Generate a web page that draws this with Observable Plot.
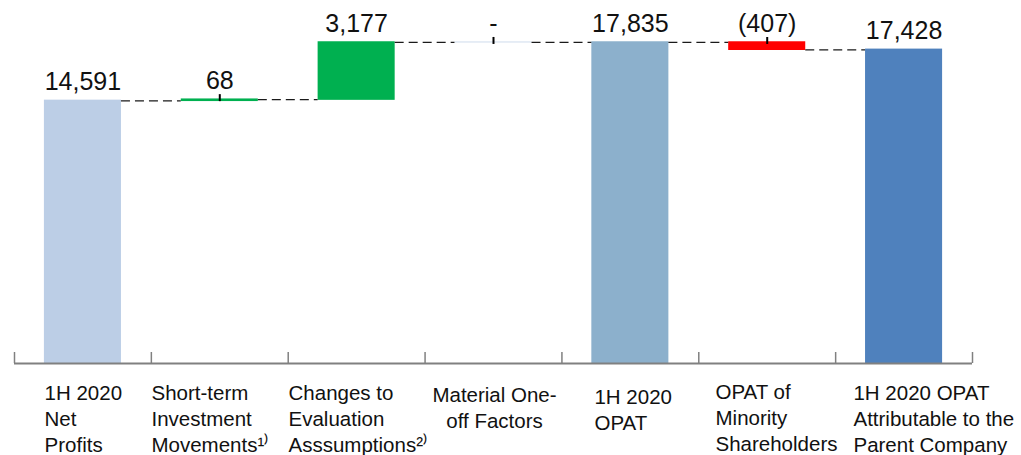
<!DOCTYPE html>
<html><head><meta charset="utf-8">
<script src="https://cdn.jsdelivr.net/npm/d3@7"></script>
<script src="https://cdn.jsdelivr.net/npm/@observablehq/plot@0.6"></script>
<style>body{margin:0;background:#fff;} svg{display:block}</style>
</head><body><div id="chart"></div>
<script>
// ---- data ----
const categories = [
  "1H 2020\nNet\nProfits",
  "Short-term\nInvestment\nMovements¹⁾",
  "Changes to\nEvaluation\nAsssumptions²⁾",
  "Material One-\noff Factors",
  "1H 2020\nOPAT",
  "OPAT of\nMinority\nShareholders",
  "1H 2020 OPAT\nAttributable to the\nParent Company"
];
const values = [14591, 68, 3177, 0, 17835, -407, 17428];
const kinds = ["total", "delta", "delta", "delta", "total", "delta", "total"];
const valueLabels = ["14,591", "68", "3,177", "-", "17,835", "(407)", "17,428"];

// ---- styles ----
const barColors = ["#bccee6", "#00b050", "#00b050", "#dce6f2", "#8cb0cc", "#ff0000", "#4f81bd"];
const W = 1021, H = 455;
const mL = 14, mR = 49, mT = 3, mB = 92;
const padIn = 0.437;
const step = (W - mL - mR) / categories.length;
const bw = step * (1 - padIn);
const labelDx = [-38.4, -68.3, -68.1, 1, -35.9, -51.7, -50.6];
const labelDy = [0, 0, 0.5, 2, 4.5, -1, 0];
const labelAnchor = ["start", "start", "start", "middle", "start", "start", "start"];
const axisGray = "#808080";

// ---- derived waterfall rows ----
let running = 0;
const rows = categories.map((c, i) => {
  let base, top;
  if (kinds[i] === "total") { base = 0; top = values[i]; }
  else { base = running; top = running + values[i]; }
  running = top;
  return {cat: c, base, top, end: running, hi: Math.max(base, top), label: valueLabels[i], color: barColors[i], kind: kinds[i], v: values[i]};
});
const connectors = rows.slice(0, -1).map((r, i) => ({from: r.cat, to: rows[i + 1].cat, level: r.end}));
const leaders = rows.filter(r => r.kind === "delta" && Math.abs(r.v) < 1000);

const labelMarks = categories.map((c, i) => Plot.text([c], {
  x: d => d, frameAnchor: "bottom", text: d => d,
  dy: 17.5 + labelDy[i], dx: labelDx[i], textAnchor: labelAnchor[i],
  lineAnchor: "top", lineHeight: 1.27, fontSize: 20.5, fill: "#111"
}));

const chart = Plot.plot({
  width: W, height: H,
  marginLeft: mL, marginRight: mR, marginTop: mT, marginBottom: mB,
  x: {domain: categories, paddingInner: padIn, paddingOuter: padIn / 2, round: false, axis: null},
  y: {domain: [0, 20000], axis: null},
  color: {type: "identity"},
  style: {fontFamily: "'Liberation Sans', Arial, sans-serif", background: "#fff", overflow: "visible"},
  marks: [
    Plot.barY(rows, {x: "cat", y1: "base", y2: "top", fill: "color", insetTop: -0.7, insetBottom: -0.7}),
    Plot.ruleY(connectors, {x1: "from", x2: "to", y: "level", stroke: "#1a1a1a", strokeWidth: 1.2, strokeDasharray: "9,5", insetLeft: bw, insetRight: bw}),
    Plot.ruleX(leaders, {x: "cat", y1: "hi", y2: "hi", insetTop: -5, insetBottom: -2, stroke: "#000", strokeWidth: 2}),
    Plot.text(rows, {x: "cat", y: "hi", text: "label", lineAnchor: "bottom", dy: -10.5, fontSize: 25, fill: "#111"}),
    Plot.ruleY([0], {stroke: axisGray, strokeWidth: 2}),
    Plot.ruleX(categories, {dx: -step / 2, insetTop: H - mT - mB - 11, stroke: axisGray, strokeWidth: 1.5}),
    Plot.ruleX([categories[categories.length - 1]], {dx: step / 2, insetTop: H - mT - mB - 11, stroke: axisGray, strokeWidth: 1.5}),
    ...labelMarks
  ]
});
document.getElementById("chart").appendChild(chart);
</script>
</body></html>
